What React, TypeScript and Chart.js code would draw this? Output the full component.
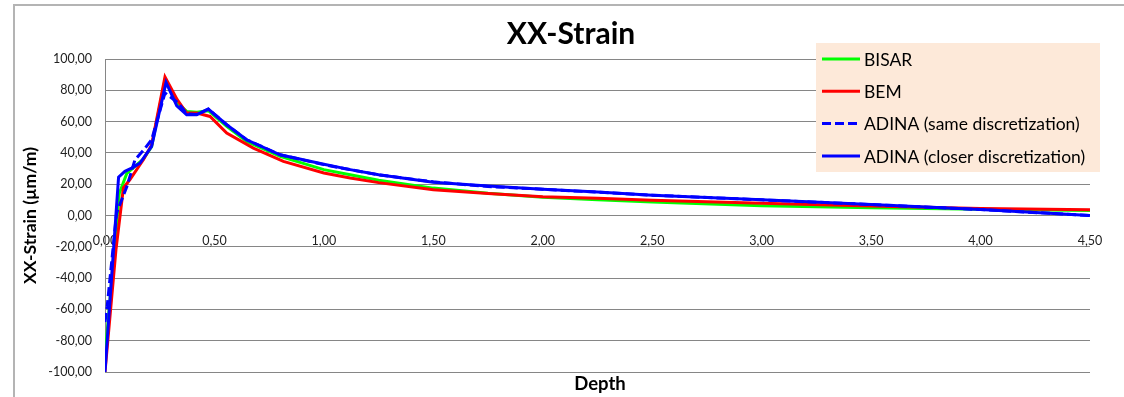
import { useEffect, useRef } from "react";
import { Chart, registerables } from "chart.js";

Chart.register(...registerables);

const FONT = "Lato, 'Open Sans', sans-serif";

const chartTitle = "XX-Strain";
const yAxisTitle = "XX-Strain (µm/m)";
const xAxisTitle = "Depth";

const seriesNames = [
  "BISAR",
  "BEM",
  "ADINA (same discretization)",
  "ADINA (closer discretization)",
];

const bisarDepth = [0, 0.065, 0.1, 0.175, 0.213, 0.274, 0.33, 0.373, 0.42, 0.472, 0.556, 0.647, 0.8, 1.0, 1.12, 1.25, 1.5, 1.75, 2.0, 2.25, 2.5, 3.0, 3.5, 4.0, 4.5];
const bisarStrain = [-90, 14, 27, 36, 44, 86.5, 72, 66.5, 66, 67, 57, 47.3, 37.8, 29.3, 26, 22.5, 17.5, 14.2, 11.7, 10, 8.6, 6.3, 4.9, 4, 3.2];

const bemDepth = [0, 0.05, 0.084, 0.114, 0.175, 0.213, 0.274, 0.33, 0.373, 0.42, 0.48, 0.556, 0.678, 0.815, 1.0, 1.12, 1.25, 1.5, 1.75, 2.0, 2.25, 2.5, 3.0, 3.5, 4.0, 4.5];
const bemStrain = [-100, -22, 17.6, 23, 35.6, 45, 88.5, 74, 65.5, 65.5, 63.3, 52.7, 43.1, 34.6, 27.2, 24, 21, 16.5, 14, 12, 11, 9.8, 7.8, 6, 4.5, 3.7];

const adinaSameDepth = [0, 0.01, 0.053, 0.1, 0.137, 0.183, 0.213, 0.274, 0.335, 0.373, 0.42, 0.472, 0.556, 0.647, 0.8, 1.0, 1.12, 1.25, 1.5, 1.75, 2.0, 2.5, 3.0, 3.5, 4.0, 4.5];
const adinaSameStrain = [-68, -58, 1.6, 18.6, 35.6, 43, 48.4, 78.3, 71.9, 65, 64.5, 68, 58, 48.4, 38.8, 32.5, 29.3, 26, 21.5, 18.5, 16.8, 13, 10, 7, 3.8, 0];

const adinaCloserDepth = [0, 0.062, 0.091, 0.122, 0.16, 0.213, 0.279, 0.328, 0.373, 0.419, 0.472, 0.556, 0.647, 0.8, 1.0, 1.12, 1.25, 1.5, 1.75, 2.0, 2.25, 2.5, 3.0, 3.5, 4.0, 4.5];
const adinaCloserStrain = [-100, 24.5, 28.2, 30.3, 33.5, 44.2, 85, 70, 64.4, 64.4, 68, 58, 48.4, 38.8, 32.7, 29.3, 26, 21.3, 18.8, 16.8, 15, 13, 10, 7, 3.9, 0];

const seriesColors = ["#00ff00", "#ff0000", "#0000ff", "#0000ff"];
const seriesDashes: number[][] = [[], [], [9, 4], []];

const zip = (xs: number[], ys: number[]) => xs.map((x, i) => ({ x, y: ys[i] }));

const fmt = (v: number) => Number(v).toFixed(2).replace(".", ",");

const legendPlugin = {
  id: "boxLegend",
  afterDraw(chart: any) {
    const ctx = chart.ctx as CanvasRenderingContext2D;
    ctx.save();
    // title
    ctx.fillStyle = "#000";
    ctx.font = `bold 30px ${FONT}`;
    ctx.textAlign = "center";
    ctx.textBaseline = "middle";
    ctx.fillText(chartTitle, 571, 34);
    // x axis title
    ctx.font = `bold 18.5px ${FONT}`;
    ctx.fillText(xAxisTitle, 600, 384);
    // legend box
    const bx = 816, by = 43, bw = 284, bh = 129;
    ctx.fillStyle = "#fde9d9";
    ctx.fillRect(bx, by, bw, bh);
    ctx.font = `17.5px ${FONT}`;
    ctx.textAlign = "left";
    seriesNames.forEach((name, i) => {
      const y = 59 + i * 32.3;
      ctx.beginPath();
      ctx.strokeStyle = seriesColors[i];
      ctx.lineWidth = 3;
      ctx.setLineDash(seriesDashes[i]);
      ctx.moveTo(822, y);
      ctx.lineTo(860, y);
      ctx.stroke();
      ctx.setLineDash([]);
      ctx.fillStyle = "#000";
      ctx.fillText(name, 864, y + 1);
    });
    ctx.restore();
  },
};

export default function App() {
  const ref = useRef<HTMLCanvasElement | null>(null);

  useEffect(() => {
    if (!ref.current) return;
    const depths = [bisarDepth, bemDepth, adinaSameDepth, adinaCloserDepth];
    const strains = [bisarStrain, bemStrain, adinaSameStrain, adinaCloserStrain];
    const orders = [4, 3, 2, 1];
    const chart = new Chart(ref.current, {
      type: "line",
      data: {
        datasets: seriesNames.map((name, i) => ({
          label: name,
          data: zip(depths[i], strains[i]),
          borderColor: seriesColors[i],
          backgroundColor: seriesColors[i],
          borderWidth: 3,
          borderDash: seriesDashes[i],
          pointRadius: 0,
          tension: 0,
          fill: false,
          order: orders[i],
        })),
      },
      options: {
        animation: false,
        responsive: true,
        maintainAspectRatio: false,
        layout: { padding: { left: 0, top: 59, right: 34, bottom: 25 } },
        plugins: {
          legend: { display: false },
          title: { display: false },
          tooltip: { enabled: false },
        },
        scales: {
          x: {
            type: "linear",
            position: { y: 0 } as any,
            min: 0,
            max: 4.5,
            grid: { display: false, drawTicks: false },
            border: { display: false },
            ticks: {
              stepSize: 0.5,
              padding: 18,
              color: "#222",
              font: { family: FONT, size: 12.5 },
              callback: (v: any) => fmt(v),
            },
          },
          y: {
            type: "linear",
            min: -100,
            max: 100,
            afterFit: (scale: any) => {
              scale.width = 105;
            },
            grid: { color: "#868686", lineWidth: 1, drawTicks: false },
            border: { display: true, color: "#868686", width: 1 },
            ticks: {
              stepSize: 20,
              padding: 13,
              color: "#222",
              font: { family: FONT, size: 12.5 },
              callback: (v: any) => fmt(v),
            },
            title: {
              display: true,
              text: yAxisTitle,
              color: "#000",
              font: { family: FONT, size: 17.5, weight: "bold" },
              padding: { top: 20, bottom: 0 },
            },
          },
        },
      },
      plugins: [legendPlugin],
    });
    return () => chart.destroy();
  }, []);

  return (
    <div
      style={{
        position: "absolute",
        left: 0,
        top: 0,
        width: 1124,
        height: 397,
        overflow: "hidden",
        background: "#fff",
      }}
    >
      <div
        style={{
          position: "absolute",
          left: 13,
          top: 4,
          width: 1300,
          height: 600,
          border: "2px solid #b4b4b4",
        }}
      />
      <canvas ref={ref} style={{ position: "absolute", left: 0, top: 0, width: 1124, height: 397 }} />
    </div>
  );
}
